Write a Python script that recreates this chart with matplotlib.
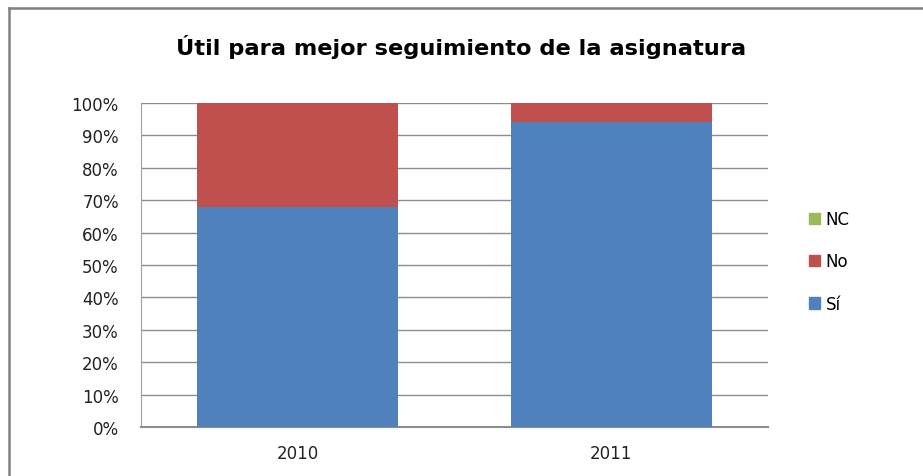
import numpy as np
import matplotlib.pyplot as plt
from matplotlib.lines import Line2D
from matplotlib.patches import Patch
from matplotlib.ticker import PercentFormatter

plt.rcParams['font.family'] = ['DejaVu Sans']

# data (share of answers per year)
years = ['2010', '2011']
si = [0.68, 0.94]
no = [0.32, 0.06]
nc = [0.0, 0.0]

c_si, c_no, c_nc = '#4F81BD', '#C0504D', '#9BBB59'

fig = plt.figure(figsize=(9.23, 4.77), dpi=100)
ax = fig.add_axes([0.1528, 0.1027, 0.6792, 0.6793])

x = np.arange(len(years))
w = 0.64
ax.bar(x, si, w, color=c_si, zorder=3)
ax.bar(x, no, w, bottom=si, color=c_no, zorder=3)
ax.bar(x, nc, w, bottom=np.add(si, no), color=c_nc, zorder=3)

ax.set_xlim(-0.5, 1.5)
ax.set_ylim(0, 1)
ax.set_yticks(np.linspace(0, 1, 11))
ax.yaxis.set_major_formatter(PercentFormatter(1.0, decimals=0))
ax.set_xticks(x)
ax.set_xticklabels(years)
ax.tick_params(axis='both', labelsize=12, colors='#222222', length=0)
ax.tick_params(axis='y', pad=16)
ax.tick_params(axis='x', pad=12)
ax.grid(axis='y', color='#8c8c8c', linewidth=1, zorder=0)

for s in ['top', 'right']:
    ax.spines[s].set_visible(False)
ax.spines['left'].set_color('#a0a0a0')
ax.spines['bottom'].set_color('#8c8c8c')
ax.spines['bottom'].set_linewidth(1.5)

fig.suptitle('Útil para mejor seguimiento de la asignatura', x=0.50, y=0.927,
             fontsize=16.2, fontweight='bold', color='black')

handles = [Patch(color=c_nc), Patch(color=c_no), Patch(color=c_si)]
fig.legend(handles, ['NC', 'No', 'Sí'], loc='center left',
           bbox_to_anchor=(0.86, 0.45), frameon=False, fontsize=12,
           handlelength=0.7, handleheight=0.7, handletextpad=0.3,
           labelspacing=1.45)

# outer chart border
fig.add_artist(Line2D([0.0098, 1.0], [0.982, 0.982], color='#808080', lw=1.8,
                      transform=fig.transFigure))
fig.add_artist(Line2D([0.0098, 0.0098], [0.0, 0.982], color='#808080', lw=1.8,
                      transform=fig.transFigure))

fig.savefig('out.png', dpi=100)
